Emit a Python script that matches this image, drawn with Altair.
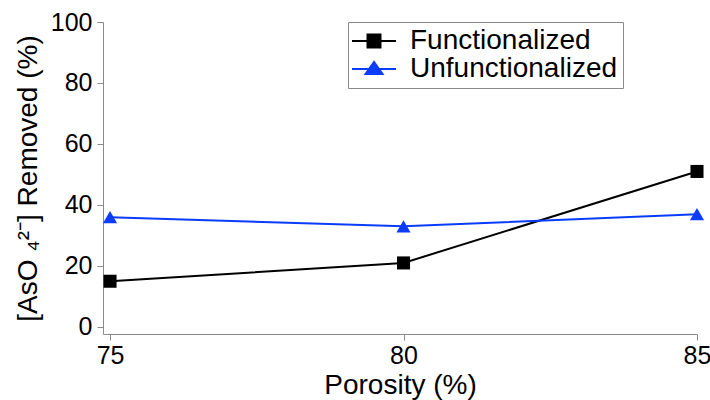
import altair as alt
import pandas as pd

# ---- data ----
porosity = [75, 80, 85]
functionalized = [15, 21, 51]
unfunctionalized = [36, 33, 37]
series_names = ["Functionalized", "Unfunctionalized"]
series_colors = ["#000000", "#0a3cff"]
marker_shapes = ["square", "triangle-up"]
x_ticks = [75, 80, 85]
y_ticks = [0, 20, 40, 60, 80, 100]

# legend glyphs: a short line with the marker in its middle
legend_glyphs = [
    "M-1.5,0H2.9M0.05,-0.65H1.35V0.65H0.05Z",
    "M-1.5,0H2.9M-0.15,0.5L0.7,-0.7L1.55,0.5Z",
]

rows = []
for p, v in zip(porosity, functionalized):
    rows.append({"porosity": p, "removed": v, "series": series_names[0]})
for p, v in zip(porosity, unfunctionalized):
    rows.append({"porosity": p, "removed": v, "series": series_names[1]})
df = pd.DataFrame(rows)

FONT = "Liberation Sans"
AXIS_GRAY = "#8a8a8a"

x = alt.X(
    "porosity:Q",
    scale=alt.Scale(domain=[74.88, 85], nice=False, zero=False),
    axis=alt.Axis(
        values=x_ticks, title="Porosity (%)", grid=False,
        domainColor=AXIS_GRAY, tickColor=AXIS_GRAY, tickSize=6,
        labelFont=FONT, labelFontSize=25, labelColor="black", labelPadding=3,
        titleFont=FONT, titleFontSize=28, titleFontWeight="normal",
        titleColor="black", titlePadding=3, labelFlush=False,
    ),
)
y = alt.Y(
    "removed:Q",
    scale=alt.Scale(domain=[-2.3, 100], nice=False, zero=False),
    axis=alt.Axis(
        values=y_ticks, title="[AsO ₄²⁻] Removed (%)", grid=False,
        domainColor=AXIS_GRAY, tickColor=AXIS_GRAY, tickSize=6,
        labelFont=FONT, labelFontSize=25, labelColor="black", labelPadding=5,
        titleFont=FONT, titleFontSize=28, titleFontWeight="normal",
        titleColor="black", titlePadding=8, labelFlush=False,
    ),
)

# data-driven domain (sorted) for the drawn marks
line_color_scale = alt.Scale(range=series_colors)
# explicit domain for the legend channels
legend_color_scale = alt.Scale(domain=series_names, range=series_colors)

lines = alt.Chart(df).mark_line(strokeWidth=2).encode(
    x=x, y=y,
    color=alt.Color("series:N", scale=line_color_scale, legend=None),
    detail="series:N",
)

point_layers = []
for name, shp, sz in zip(series_names, marker_shapes, [170, 200]):
    point_layers.append(
        alt.Chart(df)
        .transform_filter(alt.datum.series == name)
        .mark_point(filled=True, size=sz, opacity=1, shape=shp)
        .encode(x=x, y=y, color=alt.Color("series:N", scale=line_color_scale, legend=None))
    )

legend_cfg = dict(
    title=None, orient="none", legendX=245, legendY=0, direction="vertical",
    labelFont=FONT, labelFontSize=28, labelColor="black", labelLimit=400,
    labelOffset=29, symbolSize=400, symbolStrokeWidth=2,
    strokeColor=AXIS_GRAY, fillColor="white", padding=5, rowPadding=0,
)

# marks with no rows whose only job is to carry the legend
legend_layer = alt.Chart(df).transform_filter("false").mark_point(strokeWidth=2, opacity=1).encode(
    x=x, y=y,
    shape=alt.Shape("series:N", scale=alt.Scale(domain=series_names, range=legend_glyphs),
                    legend=alt.Legend(**legend_cfg)),
    fill=alt.Fill("series:N", scale=legend_color_scale, legend=alt.Legend(**legend_cfg)),
    stroke=alt.Stroke("series:N", scale=legend_color_scale, legend=alt.Legend(**legend_cfg)),
)

chart = (
    alt.layer(lines, *point_layers, legend_layer)
    .properties(
        width=594, height=312,
        autosize=alt.AutoSizeParams(type="none"),
        padding={"left": 103, "top": 22, "right": 13, "bottom": 66},
        background="white",
    )
    .configure_view(stroke=None)
)

chart.save("out.html", embed_options={"renderer": "svg", "actions": False})
